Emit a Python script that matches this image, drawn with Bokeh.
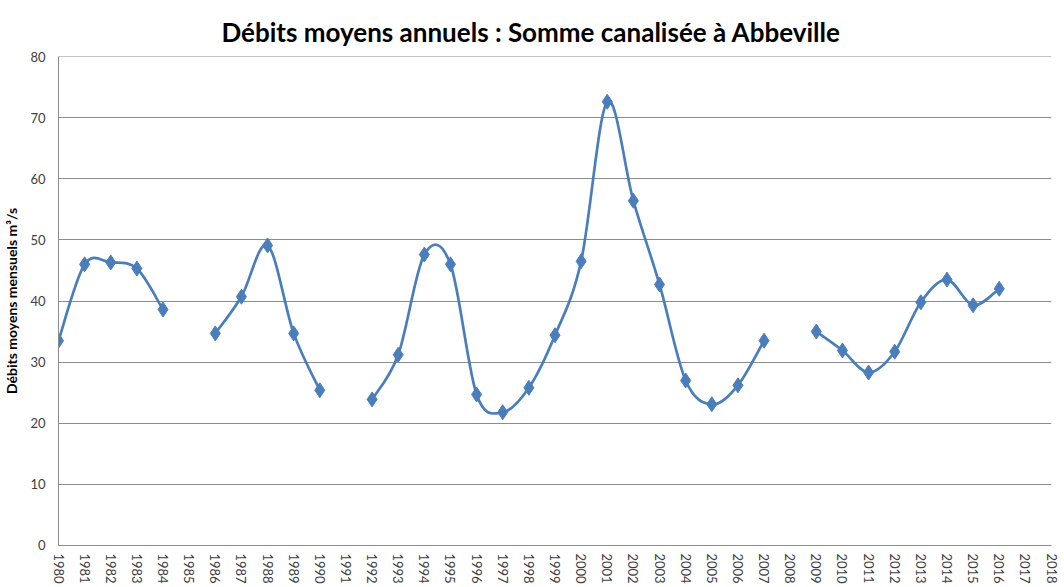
import math
from bokeh.plotting import figure
from bokeh.models import Range1d, FixedTicker, Title
from bokeh.embed import file_html
from bokeh.resources import INLINE

# ---- data ----
years = list(range(1980, 2017))
debits = [33.5, 46.0, 46.3, 45.3, 38.6, None,
          34.7, 40.7, 49.1, 34.7, 25.4, None,
          23.9, 31.2, 47.6, 46.0, 24.7, 21.8, 25.8, 34.4, 46.5, 72.6,
          56.4, 42.7, 27.0, 23.1, 26.2, 33.5, None,
          35.0, 31.9, 28.3, 31.7, 39.8, 43.5, 39.3, 42.0]
x_ticks = list(range(1980, 2019))
y_ticks = [0, 10, 20, 30, 40, 50, 60, 70, 80]

title_text = "Débits moyens annuels : Somme canalisée à Abbeville"
y_label = "Débits moyens mensuels m³/s"

BLUE = "#4A7EBB"
GRID = "#8c8c8c"
FONT = "Lato"

eps = 0.002
p = figure(frame_width=993, frame_height=489, output_backend="svg", toolbar_location=None,
           x_range=Range1d(x_ticks[0], x_ticks[-1]),
           y_range=Range1d(y_ticks[0] - eps, y_ticks[-1] + eps),
           min_border_left=57, min_border_right=10, min_border_top=56, min_border_bottom=20)
p.outline_line_color = None
p.background_fill_color = "white"
p.border_fill_color = "white"

t = Title(text=title_text, align="left", text_font=FONT, text_font_size="26px",
          text_font_style="bold", text_color="black", offset=163, standoff=17)
p.add_layout(t, "above")

# axes
p.xaxis.ticker = FixedTicker(ticks=x_ticks)
p.yaxis.ticker = FixedTicker(ticks=y_ticks)
p.xaxis.major_label_orientation = "vertical"
for ax in (p.xaxis, p.yaxis):
    ax.major_tick_line_color = None
    ax.minor_tick_line_color = None
    ax.major_tick_out = 0
    ax.major_tick_in = 0
    ax.axis_line_color = GRID
    ax.major_label_text_font = FONT
    ax.major_label_text_font_size = "13px"
    ax.major_label_text_color = "#404040"
p.yaxis.major_label_standoff = 13
p.xaxis.major_label_standoff = 8
p.yaxis.axis_label = y_label
p.yaxis.axis_label_text_font = FONT
p.yaxis.axis_label_text_font_size = "14px"
p.yaxis.axis_label_text_font_style = "bold"
p.yaxis.axis_label_text_color = "black"
p.yaxis.axis_label_standoff = 7

p.xgrid.grid_line_color = None
p.ygrid.grid_line_color = GRID
p.ygrid.grid_line_width = 1

# split into continuous segments and draw smoothed curves (Bezier, Catmull-Rom style)
segments = []
cur = []
for yr, v in zip(years, debits):
    if v is None:
        if cur:
            segments.append(cur)
        cur = []
    else:
        cur.append((yr, v))
if cur:
    segments.append(cur)

bx0, by0, bx1, by1, c0x, c0y, c1x, c1y = [], [], [], [], [], [], [], []
f = 1.0 / 6.0
for seg in segments:
    n = len(seg)
    for i in range(n - 1):
        p0 = seg[i - 1] if i > 0 else seg[i]
        p1 = seg[i]
        p2 = seg[i + 1]
        p3 = seg[i + 2] if i + 2 < n else seg[i + 1]
        bx0.append(p1[0]); by0.append(p1[1])
        bx1.append(p2[0]); by1.append(p2[1])
        c0x.append(p1[0] + (p2[0] - p0[0]) * f); c0y.append(p1[1] + (p2[1] - p0[1]) * f)
        c1x.append(p2[0] - (p3[0] - p1[0]) * f); c1y.append(p2[1] - (p3[1] - p1[1]) * f)

p.bezier(x0=bx0, y0=by0, x1=bx1, y1=by1, cx0=c0x, cy0=c0y, cx1=c1x, cy1=c1y,
         line_color=BLUE, line_width=2.7, line_cap="round")

mx = [yr for yr, v in zip(years, debits) if v is not None]
my = [v for v in debits if v is not None]
p.scatter(mx, my, marker="diamond", size=15, fill_color=BLUE, line_color=BLUE, line_width=1)

open("out.html", "w").write(file_html(p, INLINE))
